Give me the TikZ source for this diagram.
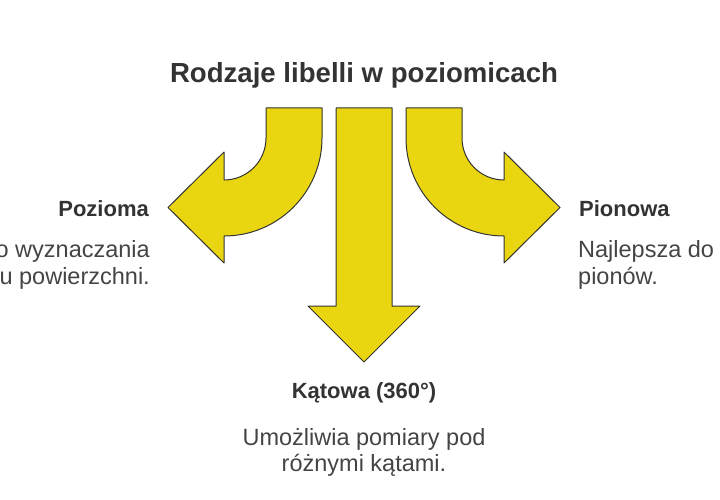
\documentclass[tikz,border=0pt]{standalone}
\usepackage{fontspec}
\setmainfont{Liberation Sans}
\usepackage{tikz}
\usetikzlibrary{positioning}

\definecolor{libyellow}{RGB}{234,214,16}
\definecolor{libline}{RGB}{51,51,51}
\definecolor{libtext}{RGB}{51,51,51}
\definecolor{libdesc}{RGB}{68,68,68}

\tikzset{
  arrowshape/.style={fill=libyellow, draw=libline, line width=1pt, line join=round},
  heading/.style={inner sep=0pt, text=libtext, font=\fontsize{22}{26}\selectfont\bfseries},
  desc/.style={inner sep=0pt, text=libdesc, font=\fontsize{23.5}{28}\selectfont}
}

\begin{document}
\begin{tikzpicture}[x=1pt,y=-1pt]
\useasboundingbox (0,0) rectangle (720,500);
%title
\node (title)[inner sep=0pt, anchor=base, text=libtext, font=\fontsize{27.6}{32}\selectfont\bfseries] at (364,83) {Rodzaje libelli w poziomicach};

%left arrow
\draw [arrowshape] (266,108) -- (322,108) -- (322,138)
  arc[start angle=0, end angle=-90, radius=98pt] -- (224,263) -- (168,207.5) -- (224,152) -- (224,180)
  arc[start angle=-90, end angle=0, radius=42pt] -- cycle;
%middle arrow
\draw [arrowshape] (336,108) -- (392,108) -- (392,306) -- (420,306) -- (364,362) -- (308,306) -- (336,306) -- cycle;
%right arrow
\draw [arrowshape] (462,108) -- (406,108) -- (406,138)
  arc[start angle=180, end angle=270, radius=98pt] -- (504,263) -- (560,207.5) -- (504,152) -- (504,180)
  arc[start angle=270, end angle=180, radius=42pt] -- cycle;

%labels
\node (pozioma)[heading, anchor=base east] at (149,216) {Pozioma};
\node (pozioma_a)[desc, anchor=base east] at (150,257) {o wyznaczania};
\node (pozioma_b)[desc, anchor=base east] at (150,284) {u powierzchni.};

\node (pionowa)[heading, anchor=base west] at (579,216) {Pionowa};
\node (pionowa_a)[desc, anchor=base west] at (578,257) {Najlepsza do};
\node (pionowa_b)[desc, anchor=base west] at (578,284) {pionów.};

\node (katowa)[heading, anchor=base] at (364,398) {Kątowa (360°)};
\node (katowa_a)[desc, anchor=base] at (364,445) {Umożliwia pomiary pod};
\node (katowa_b)[desc, anchor=base] at (364,471) {różnymi kątami.};
\end{tikzpicture}
\end{document}
